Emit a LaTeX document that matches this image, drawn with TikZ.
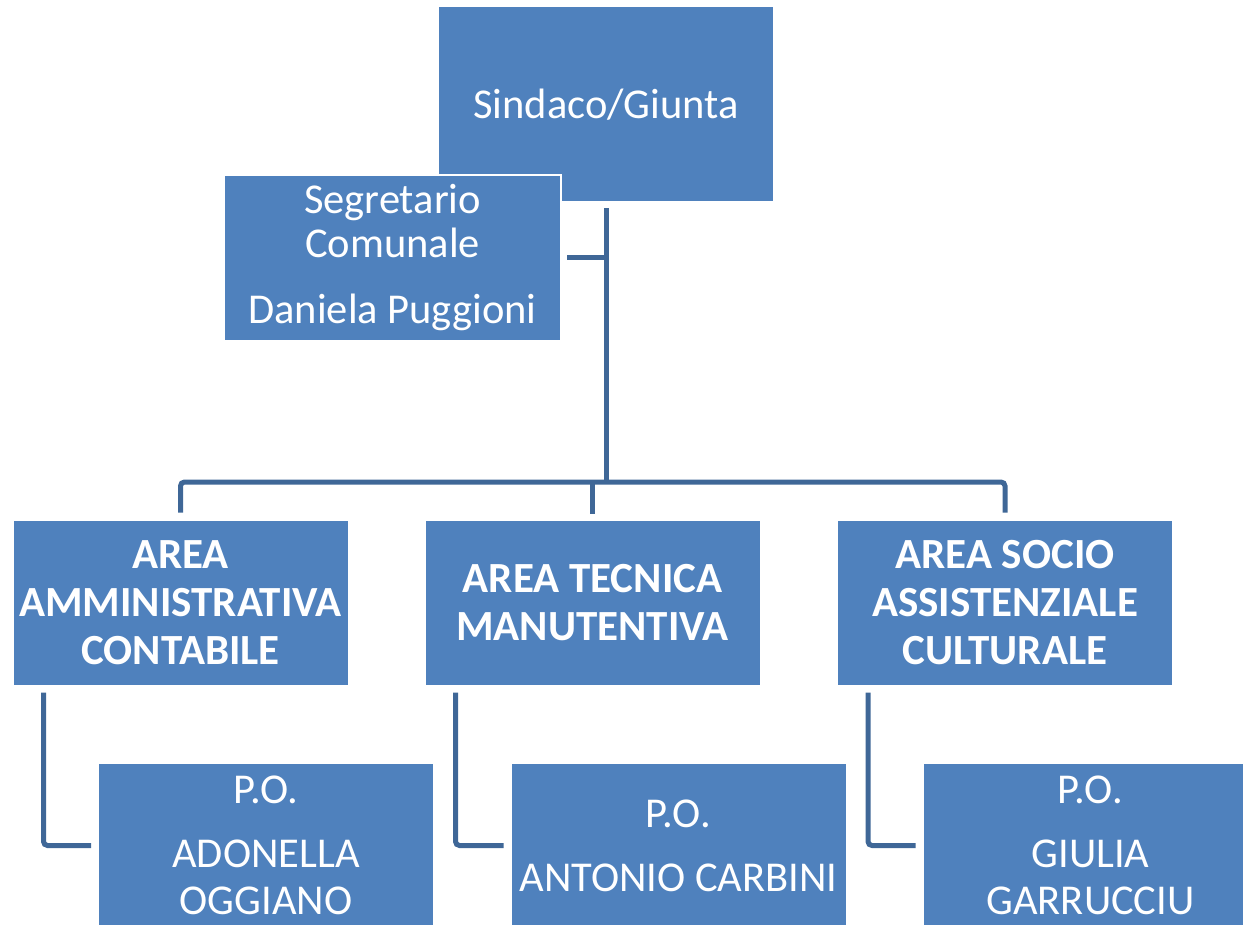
\documentclass[tikz,border=0pt]{standalone}
\usepackage{fontspec}
\setmainfont{Carlito}
\definecolor{boxblue}{HTML}{4F81BD}
\definecolor{lineblue}{HTML}{3F6797}
\tikzset{
  orgbox/.style={rectangle, fill=boxblue, draw=white, line width=2pt, inner sep=0pt,
    text=white, align=center, minimum width=336pt, minimum height=166pt},
  conn/.style={draw=lineblue, line width=5pt, rounded corners=4pt},
  regtext/.style={font=\fontsize{42.5}{44}\selectfont},
  areatext/.style={font=\fontsize{43}{48}\selectfont\bfseries},
  potext/.style={font=\fontsize{42.5}{47}\selectfont},
}
\begin{document}
\begin{tikzpicture}[x=1pt,y=-1pt]
\useasboundingbox (0,0) rectangle (1243,925);
\clip (0,0) rectangle (1243,925);
% nodes
\node[orgbox, regtext, minimum height=196pt] (sind) at (606,104.5) {Sindaco/Giunta};
\coordinate (bar) at (606,482);
\node[orgbox, areatext] (a1) at (180.5,602.5) {AREA\\AMMINISTRATIVA\\CONTABILE};
\node[orgbox, areatext] (a2) at (592.5,602.5) {AREA TECNICA\\MANUTENTIVA};
\node[orgbox, areatext] (a3) at (1005,602.5) {AREA SOCIO\\ASSISTENZIALE\\CULTURALE};
\node[orgbox, potext] (p1) at (266,845.5) {P.O.\\[17pt]ADONELLA\\OGGIANO};
\node[orgbox, potext] (p2) at (678.5,845.5) {P.O.\\[17pt]ANTONIO CARBINI};
\node[orgbox, potext] (p3) at (1090.5,845.5) {P.O.\\[17pt]GIULIA\\GARRUCCIU};
% connectors
\draw[conn] ([yshift=-5pt]sind.south) -- (bar);
\draw[conn] ([yshift=6pt]a1.north) |- (bar) -| ([yshift=6pt]a3.north);
\draw[conn] ([yshift=5pt]a2.north) -- (a2.north |- bar);
\draw[conn] ([xshift=32pt,yshift=-6pt]a1.south west) |- ([xshift=-6pt]p1.west);
\draw[conn] ([xshift=32pt,yshift=-6pt]a2.south west) |- ([xshift=-6pt]p2.west);
\draw[conn] ([xshift=32pt,yshift=-6pt]a3.south west) |- ([xshift=-6pt]p3.west);
% secretary box overlapping the mayor box
\node[orgbox, regtext, minimum width=337pt] (seg) at (392.5,258)
  {Segretario\\Comunale\\[22pt]Daniela Puggioni};
\draw[conn] ([xshift=5pt]seg.east) -- (seg.east -| bar);
\end{tikzpicture}
\end{document}
